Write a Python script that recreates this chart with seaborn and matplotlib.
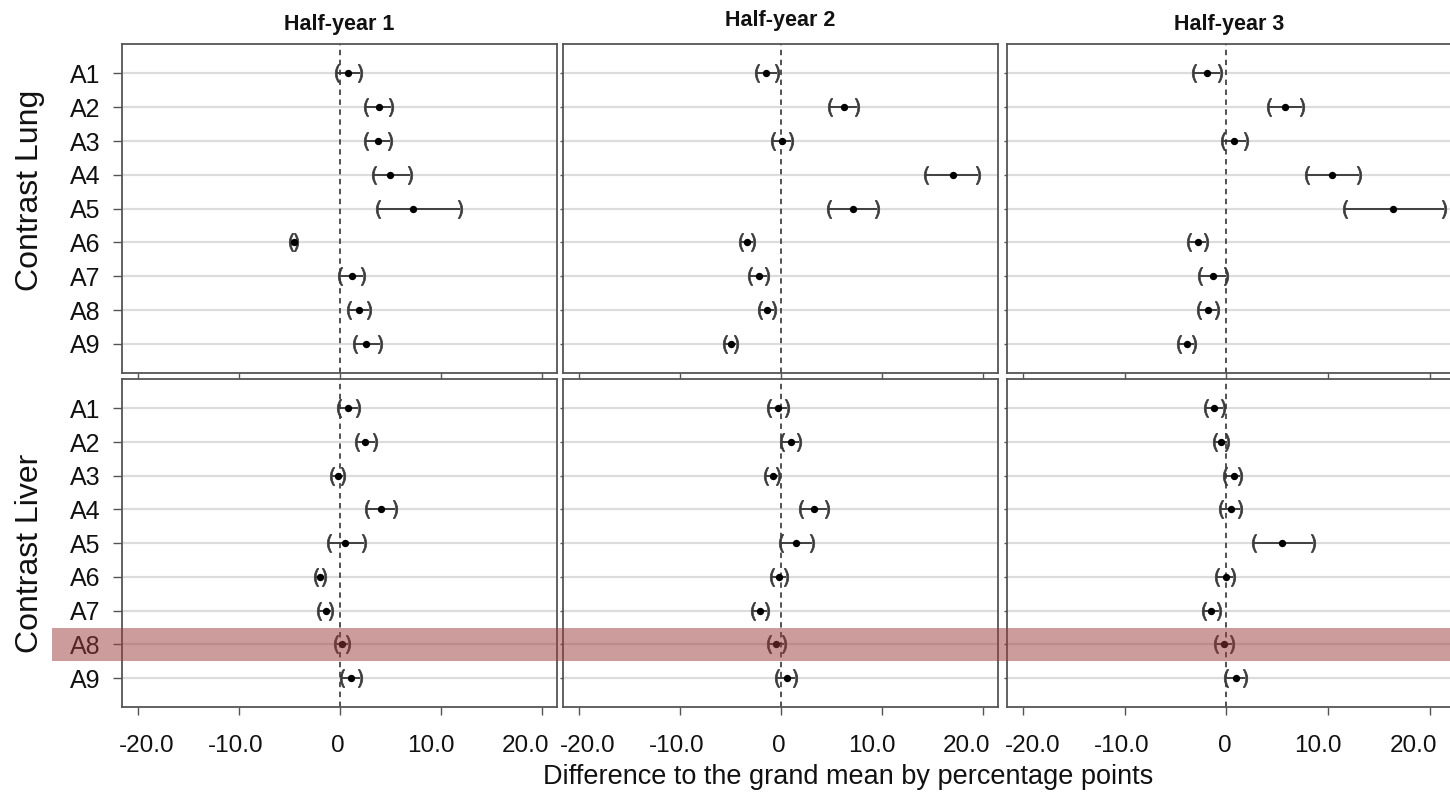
import numpy as np
import pandas as pd
import matplotlib
matplotlib.use("Agg")
import matplotlib.pyplot as plt
import matplotlib.transforms as mtransforms
from matplotlib.patches import Rectangle
import seaborn as sns

# ---------------- data ----------------
categories = ["A1", "A2", "A3", "A4", "A5", "A6", "A7", "A8", "A9"]
periods = ["Half-year 1", "Half-year 2", "Half-year 3"]
contrasts = ["Contrast Lung", "Contrast Liver"]
xtick_values = [-20, -10, 0, 10, 20]
xtick_labels = ["-20.0", "-10.0", "0", "10.0", "20.0"]
highlight_category = "A8"
x_label = "Difference to the grand mean by percentage points"

lung_h1_est = [0.8, 3.9, 3.8, 5.0, 7.2, -4.6, 1.15, 1.85, 2.6]
lung_h1_lo = [-0.3, 2.6, 2.6, 3.4, 3.8, -4.85, 0.0, 0.9, 1.5]
lung_h1_hi = [2.0, 5.1, 5.0, 6.9, 11.9, -4.35, 2.25, 2.9, 3.95]

lung_h2_est = [-1.5, 6.2, 0.1, 17.0, 7.1, -3.4, -2.2, -1.4, -5.0]
lung_h2_lo = [-2.4, 4.9, -0.8, 14.4, 4.8, -4.0, -3.1, -2.1, -5.5]
lung_h2_hi = [-0.4, 7.5, 0.95, 19.5, 9.5, -2.8, -1.35, -0.7, -4.5]

lung_h3_est = [-1.9, 5.8, 0.7, 10.4, 16.4, -2.8, -1.3, -1.8, -3.9]
lung_h3_lo = [-3.2, 4.2, -0.3, 7.95, 11.7, -3.7, -2.6, -2.7, -4.7]
lung_h3_hi = [-0.6, 7.4, 1.9, 13.0, 21.4, -2.0, 0.0, -0.9, -3.2]

liver_h1_est = [0.75, 2.5, -0.15, 4.1, 0.5, -2.0, -1.4, 0.2, 1.05]
liver_h1_lo = [-0.1, 1.65, -0.8, 2.7, -1.05, -2.4, -2.05, -0.4, 0.15]
liver_h1_hi = [1.8, 3.45, 0.25, 5.45, 2.4, -1.6, -0.85, 0.8, 2.0]

liver_h2_est = [-0.25, 1.0, -0.75, 3.25, 1.5, -0.2, -2.1, -0.45, 0.55]
liver_h2_lo = [-1.15, 0.05, -1.45, 1.95, -0.05, -0.85, -2.8, -1.15, -0.35]
liver_h2_hi = [0.6, 1.75, -0.25, 4.55, 3.1, 0.5, -1.35, 0.25, 1.4]

liver_h3_est = [-1.2, -0.55, 0.7, 0.45, 5.45, -0.05, -1.5, -0.25, 0.9]
liver_h3_lo = [-2.0, -1.15, -0.15, -0.55, 2.75, -0.9, -2.25, -1.0, 0.0]
liver_h3_hi = [-0.3, 0.05, 1.35, 1.35, 8.5, 0.6, -0.7, 0.5, 1.8]

panels = {
    (0, 0): (lung_h1_est, lung_h1_lo, lung_h1_hi),
    (0, 1): (lung_h2_est, lung_h2_lo, lung_h2_hi),
    (0, 2): (lung_h3_est, lung_h3_lo, lung_h3_hi),
    (1, 0): (liver_h1_est, liver_h1_lo, liver_h1_hi),
    (1, 1): (liver_h2_est, liver_h2_lo, liver_h2_hi),
    (1, 2): (liver_h3_est, liver_h3_lo, liver_h3_hi),
}

# ---------------- style ----------------
sns.set_theme(style="white")
plt.rcParams["font.family"] = ["Liberation Sans", "DejaVu Sans"]

W, H = 1450, 796
fig = plt.figure(figsize=(W / 100, H / 100), dpi=100)

col_px = [(122, 557), (563, 998), (1007, 1452)]
row_px = [(44, 373), (379, 707)]
xlims = [(-21.6, 21.5), (-21.6, 21.5), (-21.6, 22.2)]
title_pads = [10, 13, 10]
# small horizontal nudges (pixels) of the tick labels, as in the original
label_nudges = [9, -3, -2, -10, -16]

spine_col = "#555555"
ypos = np.arange(len(categories))

axes = {}
for r in range(2):
    for c in range(3):
        x0, x1 = col_px[c]
        y0, y1 = row_px[r]
        ax = fig.add_axes([x0 / W, 1 - y1 / H, (x1 - x0) / W, (y1 - y0) / H])
        axes[(r, c)] = ax
        est, lo, hi = panels[(r, c)]
        df = pd.DataFrame({"cat": categories, "y": ypos, "est": est,
                           "lo": lo, "hi": hi})

        # horizontal grid lines
        for yv in ypos:
            ax.axhline(yv, color="#dcdcdc", lw=1.6, zorder=0)
        # zero reference line
        ax.axvline(0, color="#444444", lw=1.3, ls=(0, (3, 2.5)), zorder=1)
        # confidence intervals
        ax.hlines(df["y"], df["lo"], df["hi"], color="#333333", lw=1.3, zorder=2)
        ax.plot(df["lo"], df["y"], ls="none", marker="$($", ms=13, mew=0.5,
                color="#3a3a3a", zorder=3)
        ax.plot(df["hi"], df["y"], ls="none", marker="$)$", ms=13, mew=0.5,
                color="#3a3a3a", zorder=3)
        # point estimates
        sns.scatterplot(data=df, x="est", y="y", ax=ax, color="black", s=28,
                        edgecolor="black", linewidth=0, zorder=4, legend=False)

        ax.set_xlim(*xlims[c])
        ax.set_ylim(8.86, -0.87)
        ax.set_xticks(xtick_values)
        ax.set_yticks(ypos)
        ax.set_xlabel("")
        ax.set_ylabel("")
        for sp in ax.spines.values():
            sp.set_visible(True)
            sp.set_color(spine_col)
            sp.set_linewidth(1.3)

        if c == 0:
            ax.set_yticklabels(categories, fontsize=18, color="#111111")
            ax.tick_params(axis="y", left=True, length=6.5, width=1,
                           color=spine_col, pad=9)
        else:
            ax.set_yticklabels([])
            ax.tick_params(axis="y", left=True, length=2, width=1,
                           color=spine_col)
        if r == 1:
            ax.set_xticklabels(xtick_labels, fontsize=17.5, color="#111111")
            ax.tick_params(axis="x", bottom=True, length=5.5, width=1,
                           color=spine_col, pad=15)
            for lab, dx in zip(ax.get_xticklabels(), label_nudges):
                off = mtransforms.ScaledTranslation(dx / 100, 0, fig.dpi_scale_trans)
                lab.set_transform(lab.get_transform() + off)
        else:
            ax.set_xticklabels([])
            ax.tick_params(axis="x", bottom=True, length=4, width=1,
                           color=spine_col)
        if r == 0:
            ax.set_title(periods[c], fontsize=15.5, fontweight="bold",
                         pad=title_pads[c], color="#111111")

# row labels
fig.text(30 / W, 1 - 190 / H, contrasts[0], rotation=90, ha="center",
         va="center", fontsize=23, color="#111111")
fig.text(30 / W, 1 - 553 / H, contrasts[1], rotation=90, ha="center",
         va="center", fontsize=23, color="#111111")

# x-axis label
fig.text(848 / W, 1 - 777 / H, x_label, ha="center", va="center",
         fontsize=19.5, color="#111111")

# highlighted row band
ax_ref = axes[(1, 0)]
hy = categories.index(highlight_category)
trans = mtransforms.blended_transform_factory(fig.transFigure, ax_ref.transData)
band = Rectangle((52 / W, hy - 0.49), 1.0, 0.98, transform=trans,
                 facecolor="#9b3a3a", alpha=0.5, edgecolor="none", zorder=10)
fig.add_artist(band)

fig.savefig("out.png", dpi=100)
